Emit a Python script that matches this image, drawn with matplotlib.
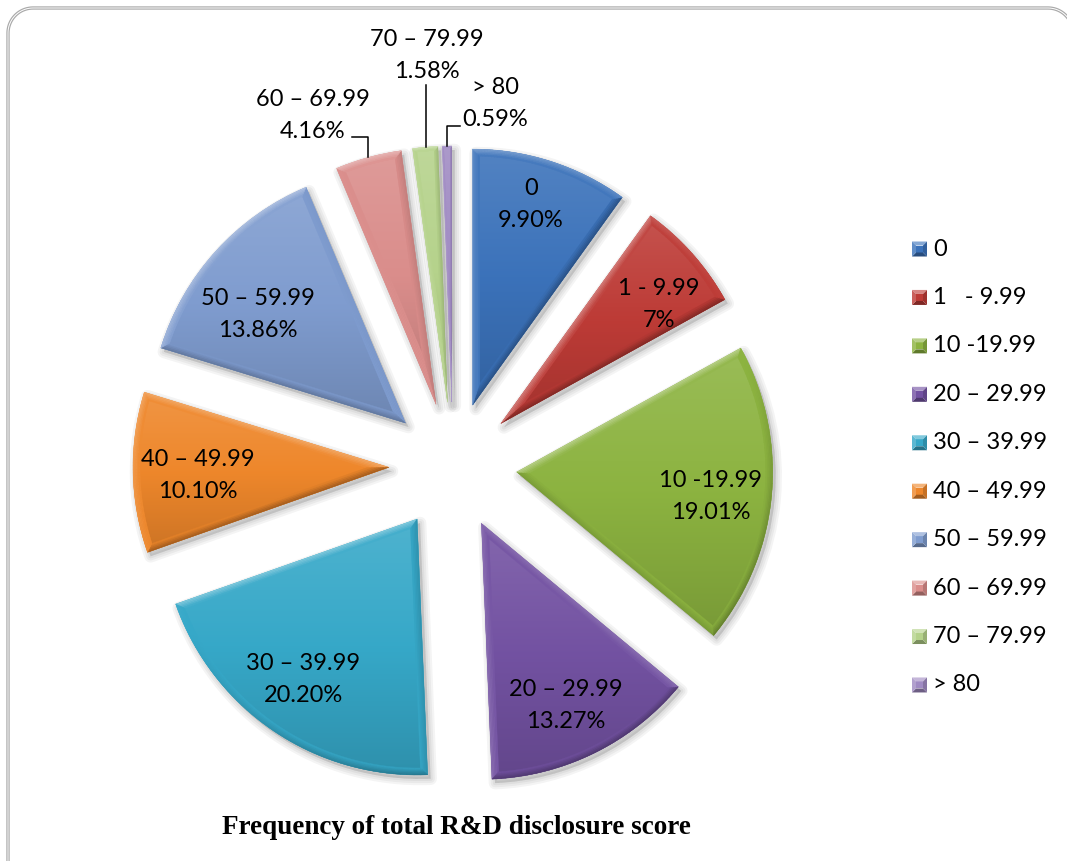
import numpy as np
import matplotlib

matplotlib.use("Agg")
import matplotlib.pyplot as plt
from matplotlib.colors import to_rgb
from matplotlib.patches import Polygon, Wedge

W, H = 1067, 861

categories = ["0", "1   - 9.99", "10 -19.99", "20 – 29.99", "30 – 39.99",
              "40 – 49.99", "50 – 59.99", "60 – 69.99", "70 – 79.99", "> 80"]
shares = [9.90, 7, 19.01, 13.27, 20.20, 10.10, 13.86, 4.16, 1.58, 0.59]
colors = ["#3B72BA", "#BD3B36", "#8CB340", "#7352A2", "#36A8C8",
          "#EE872B", "#7F9CCF", "#DA8D8B", "#B5D28B", "#A08BC3"]
title = "Frequency of total R&D disclosure score"

plt.rcParams["font.family"] = ["Lato", "DejaVu Sans"]
FS = 17

LIGHT = np.array([-0.45, 0.89])
LIGHT = LIGHT / np.linalg.norm(LIGHT)


def unit(deg):
    r = np.radians(deg)
    return np.array([np.cos(r), np.sin(r)])


def tint(base, s, up=0.42, down=0.36):
    rgb = np.array(to_rgb(base))
    if s >= 0:
        return tuple(rgb + (1 - rgb) * up * s)
    return tuple(rgb * (1 + down * s))


def shade(base, normal, amount=1.0):
    return tint(base, float(np.dot(normal, LIGHT)) * amount)


def fmt_pct(v):
    return f"{v:.0f}%" if float(v).is_integer() else f"{v:.2f}%"


def wrap_angle(a, ref):
    return ref + ((a - ref + 180) % 360 - 180)


def inset(wedge, w):
    """Tip, arc radius and arc angles of a wedge shrunk inward by w."""
    T = np.array(wedge.center)
    R = wedge.r
    t1, t2 = wedge.theta1, wedge.theta2
    if w <= 0:
        return T, R, t1, t2
    half = np.radians(t2 - t1) / 2
    D = w / np.sin(half)
    Ti = T + D * unit((t1 + t2) / 2)
    c = np.cos(half)
    s = -D * c + np.sqrt(D * D * c * c - D * D + (R - w) ** 2)
    Q1 = Ti + s * unit(t1)
    Q2 = Ti + s * unit(t2)
    p1 = wrap_angle(np.degrees(np.arctan2(*(Q1 - T)[::-1])), t1)
    p2 = wrap_angle(np.degrees(np.arctan2(*(Q2 - T)[::-1])), t2)
    return Ti, R - w, p1, p2


def add_face_gradient(ax, wedge, base):
    T = np.array(wedge.center)
    arc = np.array([T + wedge.r * unit(a)
                    for a in np.linspace(wedge.theta1, wedge.theta2, 60)])
    pts = np.vstack([T, arc])
    x0, y0 = pts.min(axis=0)
    x1, y1 = pts.max(axis=0)
    ramp = np.linspace(-1, 1, 64)
    img = np.array([[tint(base, s, up=0.12, down=0.14)] for s in ramp])
    im = ax.imshow(img, extent=[x0, x1, y0, y1], origin="lower",
                   aspect="auto", zorder=1.5, interpolation="bilinear")
    im.set_clip_path(wedge)


def add_bevel(ax, wedge, base, width=7, layers=5, n=48):
    T = np.array(wedge.center)
    half = np.radians(wedge.theta2 - wedge.theta1) / 2
    w = min(width, 0.3 * wedge.r * np.sin(half))
    levels = [inset(wedge, w * j / layers) for j in range(layers + 1)]
    t1, t2 = wedge.theta1, wedge.theta2

    def band(pts, normal, amount):
        col = shade(base, normal, amount)
        ax.add_patch(Polygon(pts, closed=True, facecolor=col, edgecolor=col,
                             linewidth=0.3, zorder=2))

    for j in range(layers):
        amount = 0.85 * (1 - j / layers)
        (Ta, Ra, a1, a2), (Tb, Rb, b1, b2) = levels[j], levels[j + 1]
        A1, B1 = T + Ra * unit(a1), T + Rb * unit(b1)
        A2, B2 = T + Ra * unit(a2), T + Rb * unit(b2)
        band([Ta, A1, B1, Tb], unit(t1 - 90), amount)
        band([Ta, A2, B2, Tb], unit(t2 + 90), amount)
        ts = np.linspace(0, 1, n + 1)
        a = a1 + ts * (a2 - a1)
        b = b1 + ts * (b2 - b1)
        for k in range(n):
            pts = [T + Ra * unit(a[k]), T + Ra * unit(a[k + 1]),
                   T + Rb * unit(b[k + 1]), T + Rb * unit(b[k])]
            band(pts, unit((a[k] + a[k + 1]) / 2), amount)


fig = plt.figure(figsize=(W / 100, H / 100), dpi=100)
ax = fig.add_axes([0, 0, 1, 1])

cx, cy, R = 453, H - 466, 256
explode = [64] * len(shares)
wedges, _ = ax.pie(shares, explode=explode, colors=colors, startangle=90,
                   counterclock=False, radius=R, center=(cx, cy),
                   wedgeprops=dict(linewidth=0, zorder=1))

# soft drop shadow under each slice
for wd in wedges:
    for lw in (9, 6, 3):
        ax.add_patch(Wedge((wd.center[0] + 3, wd.center[1] - 4), wd.r,
                           wd.theta1, wd.theta2, facecolor="k", edgecolor="k",
                           linewidth=lw, alpha=0.045, joinstyle="round",
                           zorder=0.5))

for wd, col in zip(wedges, colors):
    add_face_gradient(ax, wd, col)
    add_bevel(ax, wd, col)

# labels inside the larger slices: radial fraction and angular nudge
label_frac = [0.817, 0.773, 0.764, 0.785, 0.77, 0.746, 0.714]
label_turn = [1.7, -4.6, -1.9, -1.4, -1.2, 1.2, 5.8]
for i, (f, dt) in enumerate(zip(label_frac, label_turn)):
    wd = wedges[i]
    mid = (wd.theta1 + wd.theta2) / 2 + dt
    x, y = np.array(wd.center) + f * wd.r * unit(mid)
    ax.text(x, y + 16, " ".join(categories[i].split()), ha="center",
            va="center", fontsize=FS, zorder=3)
    ax.text(x, y - 16, fmt_pct(shares[i]), ha="center", va="center",
            fontsize=FS, zorder=3)

# outside labels with leader lines for the thin slices
outer_pos = {7: (313, 115), 8: (427, 56), 9: (495, 104)}
leader_from = {7: (352, 137), 8: (426, 85), 9: (460, 126)}
for i, (tx, ty) in outer_pos.items():
    wd = wedges[i]
    mid = (wd.theta1 + wd.theta2) / 2
    ex, ey = np.array(wd.center) + wd.r * unit(mid)
    ax.text(tx, H - ty + 16, categories[i], ha="center", va="center",
            fontsize=FS, zorder=3)
    ax.text(tx, H - ty - 16, fmt_pct(shares[i]), ha="center", va="center",
            fontsize=FS, zorder=3)
    lx, ly = leader_from[i]
    ly = H - ly
    if abs(lx - ex) < 3:
        xs, ys = [lx, lx], [ly, ey]
    else:
        xs, ys = [lx, ex, ex], [ly, ly, ey]
    ax.plot(xs, ys, color="black", linewidth=1.1, zorder=3)

# legend with pyramid-bevel markers
sq, ins = 15, 4
for i, (cat, col) in enumerate(zip(categories, colors)):
    yc = H - (249 + i * 48.44)
    x0, y0 = 912, yc - sq / 2
    x1, y1 = x0 + sq, y0 + sq
    ix0, iy0, ix1, iy1 = x0 + ins, y0 + ins, x1 - ins, y1 - ins
    faces = [
        ([(x0, y1), (x1, y1), (ix1, iy1), (ix0, iy1)], (0, 1)),
        ([(x0, y0), (x1, y0), (ix1, iy0), (ix0, iy0)], (0, -1)),
        ([(x0, y0), (x0, y1), (ix0, iy1), (ix0, iy0)], (-1, 0)),
        ([(x1, y0), (x1, y1), (ix1, iy1), (ix1, iy0)], (1, 0)),
    ]
    ax.add_patch(Polygon([(ix0, iy0), (ix1, iy0), (ix1, iy1), (ix0, iy1)],
                         facecolor=col, edgecolor="none", zorder=2))
    for pts, nrm in faces:
        ax.add_patch(Polygon(pts, facecolor=shade(col, np.array(nrm)),
                             edgecolor="none", zorder=2))
    ax.text(933, yc, cat, ha="left", va="center", fontsize=FS, zorder=3)

ax.text(456, H - 828, title, ha="center", va="center", fontsize=19.5,
        fontweight="bold", family=["Liberation Serif", "DejaVu Serif"])

# rounded double-line frame, running off the right and bottom edges
fl, fr, ft, rr = 8, 1073, H - 8, 25
arc_l = [(fl + rr + rr * np.cos(a), ft - rr + rr * np.sin(a))
         for a in np.linspace(np.pi, np.pi / 2, 20)]
arc_r = [(fr - rr + rr * np.cos(a), ft - rr + rr * np.sin(a))
         for a in np.linspace(np.pi / 2, 0, 20)]
frame = np.array([(fl, -20)] + arc_l + arc_r + [(fr, -20)])
for lw, ec in ((2.4, "#A9A9A9"), (0.7, "white")):
    ax.plot(frame[:, 0], frame[:, 1], color=ec, linewidth=lw,
            solid_joinstyle="round", zorder=4)

ax.set_xlim(0, W)
ax.set_ylim(0, H)
ax.set_aspect("equal")
ax.axis("off")

fig.savefig("out.png", dpi=100)
